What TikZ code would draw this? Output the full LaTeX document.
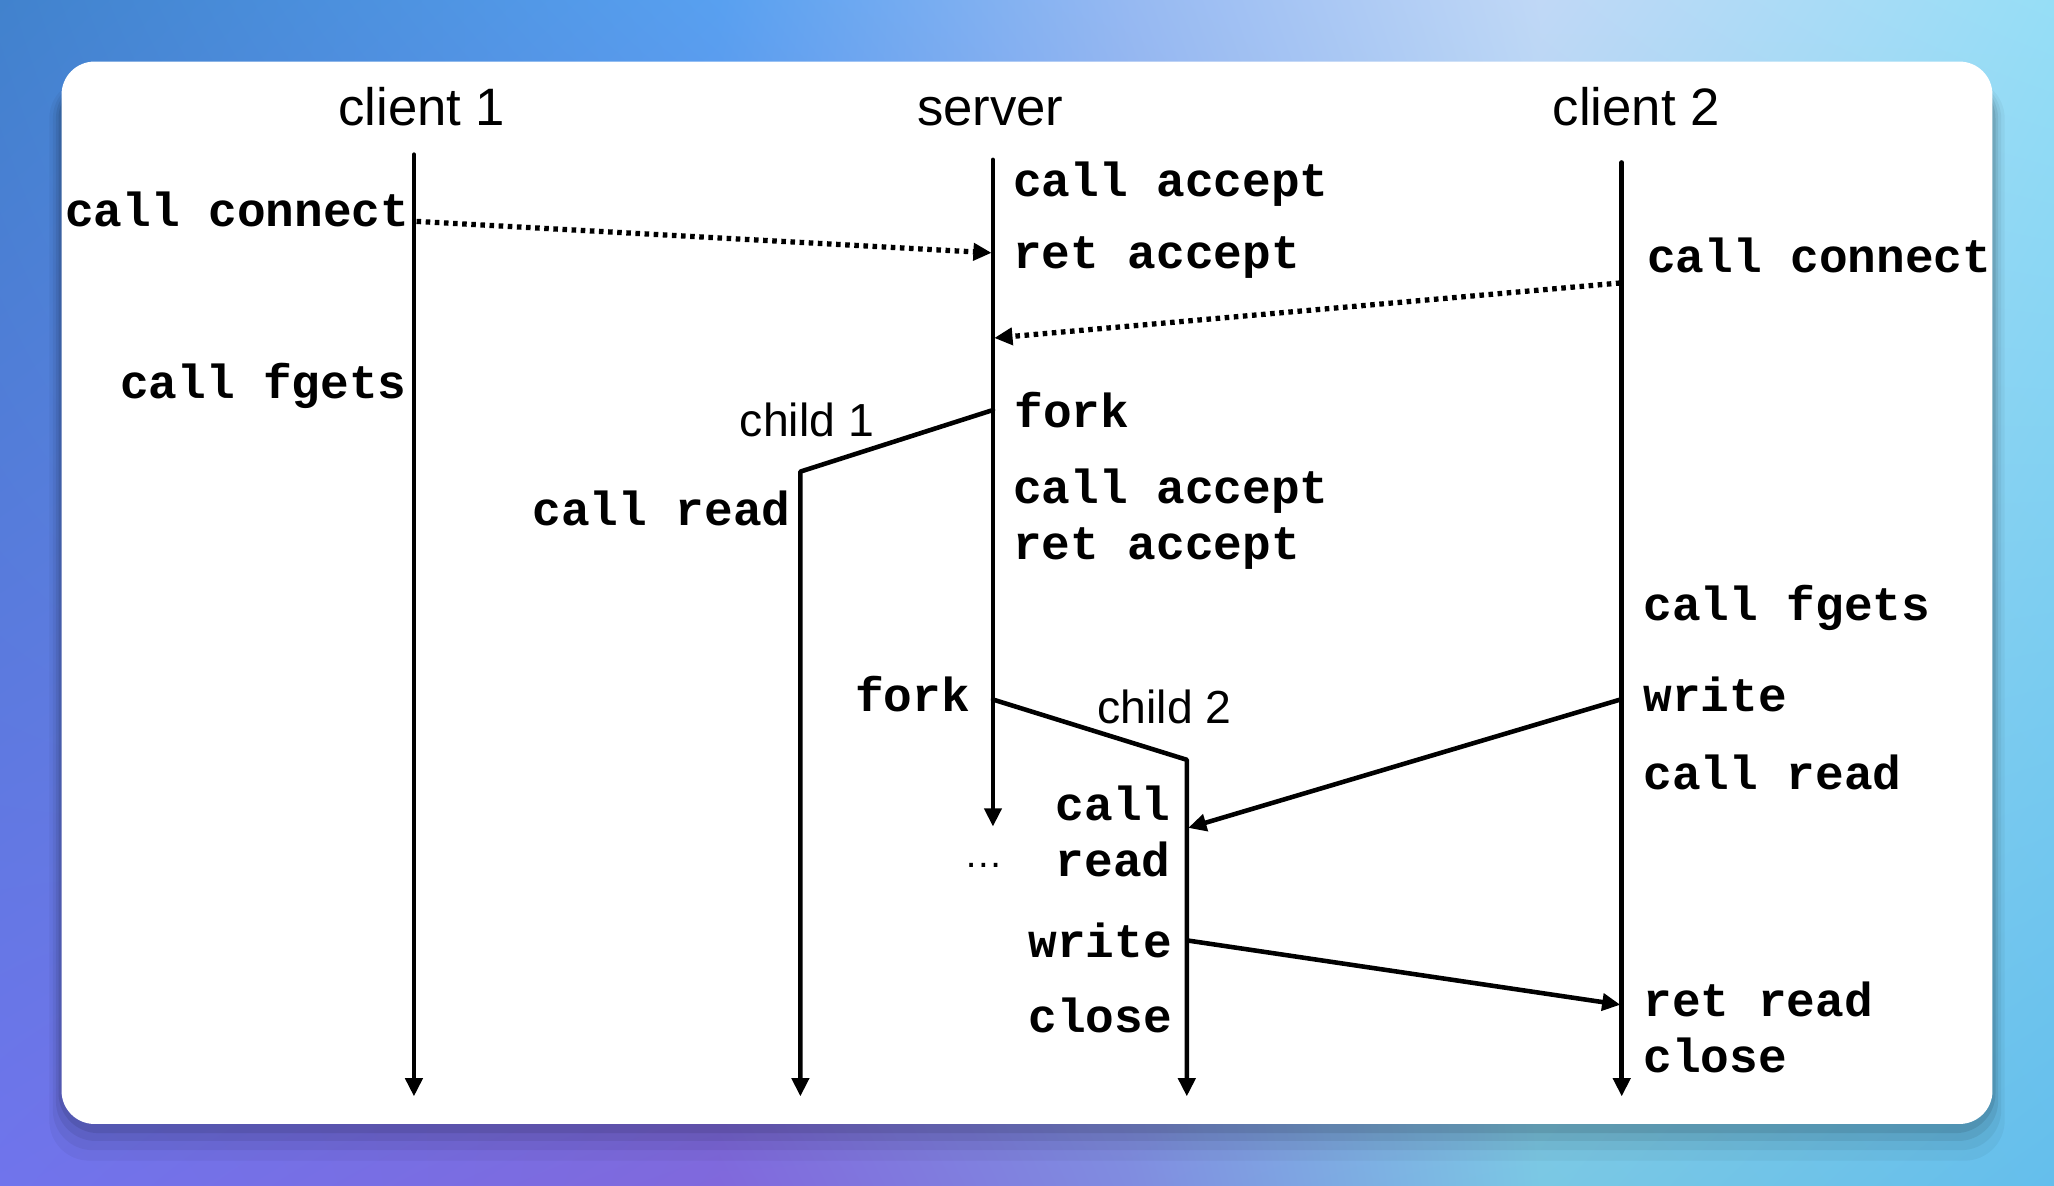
\documentclass[tikz,border=0pt]{standalone}
\usepackage{fontspec}
\setmainfont{Liberation Sans}
\setmonofont{Liberation Mono}
\usetikzlibrary{arrows,arrows.meta,shadings}
\definecolor{t0}{RGB}{65,130,205}
\definecolor{t1}{RGB}{88,160,240}
\definecolor{t2}{RGB}{150,185,242}
\definecolor{t3}{RGB}{192,216,246}
\definecolor{t4}{RGB}{150,222,246}
\definecolor{b0}{RGB}{112,116,236}
\definecolor{b1}{RGB}{128,104,220}
\definecolor{b2}{RGB}{128,140,224}
\definecolor{b3}{RGB}{122,200,228}
\definecolor{b4}{RGB}{100,190,236}

\begin{document}
\begin{tikzpicture}[line cap=round,line join=round,>={Triangle[length=5.2pt,width=4.8pt]},x=0.0131cm,y=-0.0131cm,
  life/.style={line width=1.3pt,->},
  msg/.style={line width=1.5pt,->,line cap=butt,dash pattern=on 1.3pt off 1.3pt},
  data/.style={line width=1.3pt,->},
  sys/.style={font=\ttfamily\bfseries\fontsize{13.6}{16}\selectfont,inner sep=0pt},
  proc/.style={font=\fontsize{15}{18}\selectfont,inner sep=0pt},
  kid/.style={font=\fontsize{13.2}{16}\selectfont,inner sep=0pt}]
      \useasboundingbox (0,0) rectangle (1568,905);
      % background and card
      \foreach \i/\j/\xa/\xb in {0/1/0/550,1/2/549/863,2/3/862/1177,3/4/1176/1568}
      \shade[upper left=t\i,upper right=t\j,lower left=b\i,lower right=b\j] (\xa,0) rectangle (\xb,905);
      \foreach \s/\o in {28/0.04,20/0.05,13/0.07,7/0.09}
      \fill[black,opacity=\o,rounded corners=0.4cm] ({47-\s/3},60) rectangle ({1521+\s/3},{858+\s});
      \fill[white,rounded corners=0.33cm] (47,47) rectangle (1521,858);
      % lifelines
      \coordinate (c1top) at (316,118);
      \coordinate (c1end) at (316,837);
      \coordinate (svtop) at (758,122);
      \coordinate (svend) at (758,631);
      \coordinate (c2top) at (1238,124);
      \coordinate (c2end) at (1238,837);
      \coordinate (fork1) at (758,313);
      \coordinate (k1top) at (611,360);
      \coordinate (k1end) at (611,837);
      \coordinate (fork2) at (758,534);
      \coordinate (k2top) at (906,580);
      \coordinate (k2end) at (906,837);
      \draw[life] (c1top) -- (c1end);
      \draw[life] (svtop) -- (svend);
      \draw[life] (c2top) -- (c2end);
      \draw[life] (fork1) -- (k1top) -- (k1end);
      \draw[life] (fork2) -- (k2top) -- (k2end);
      % messages
      \coordinate (cn1) at (318,169);
      \coordinate (acc1) at (757,193);
      \coordinate (cn2) at (1237,216);
      \coordinate (acc2) at (759,258);
      \coordinate (wr2) at (1237,534);
      \coordinate (rd2) at (907,632);
      \coordinate (wr1) at (907,718);
      \coordinate (rr2) at (1237,767);
      \draw[msg] (cn1) -- (acc1);
      \draw[msg] (cn2) -- (acc2);
      \draw[data] (wr2) -- (rd2);
      \draw[data] (wr1) -- (rr2);
      % headers
      \node[proc,anchor=base] (h1) at (322,96) {client 1};
      \node[proc,anchor=base] (hs) at (756,96) {server};
      \node[proc,anchor=base] (h2) at (1249,96) {client 2};
      \node[kid,anchor=base] (k1) at (616,333) {child 1};
      \node[kid,anchor=base] (k2) at (889,552) {child 2};
      % client 1
      \node[sys,anchor=base east] (c1a) at (313,173) {call connect};
      \node[sys,anchor=base east] (c1b) at (311,304) {call fgets};
      % server
      \node[sys,anchor=base west] (sva) at (773,150) {call accept};
      \node[sys,anchor=base west] (svb) at (773,205) {ret accept};
      \node[sys,anchor=base west] (svc) at (774,326) {fork};
      \node[sys,anchor=base west] (svd) at (773,384) {call accept};
      \node[sys,anchor=base west] (sve) at (773,427) {ret accept};
      \node[sys,anchor=base east] (svf) at (741,543) {fork};
      \node[anchor=base,font=\fontsize{11}{12}\selectfont,inner sep=0pt] (sdots) at (751,662) {\ldots};
      % child 1
      \node[sys,anchor=base east] (k1a) at (604,401) {call read};
      % child 2
      \node[sys,anchor=base east] (k2a) at (894,626) {call};
      \node[sys,anchor=base east] (k2b) at (894,669) {read};
      \node[sys,anchor=base east] (k2c) at (895,731) {write};
      \node[sys,anchor=base east] (k2d) at (895,788) {close};
      % client 2
      \node[sys,anchor=base west] (c2a) at (1257,208) {call connect};
      \node[sys,anchor=base west] (c2b) at (1254,474) {call fgets};
      \node[sys,anchor=base west] (c2c) at (1254,543) {write};
      \node[sys,anchor=base west] (c2d) at (1254,603) {call read};
      \node[sys,anchor=base west] (c2e) at (1254,776) {ret read};
      \node[sys,anchor=base west] (c2f) at (1254,819) {close};
    \end{tikzpicture}
\end{document}
